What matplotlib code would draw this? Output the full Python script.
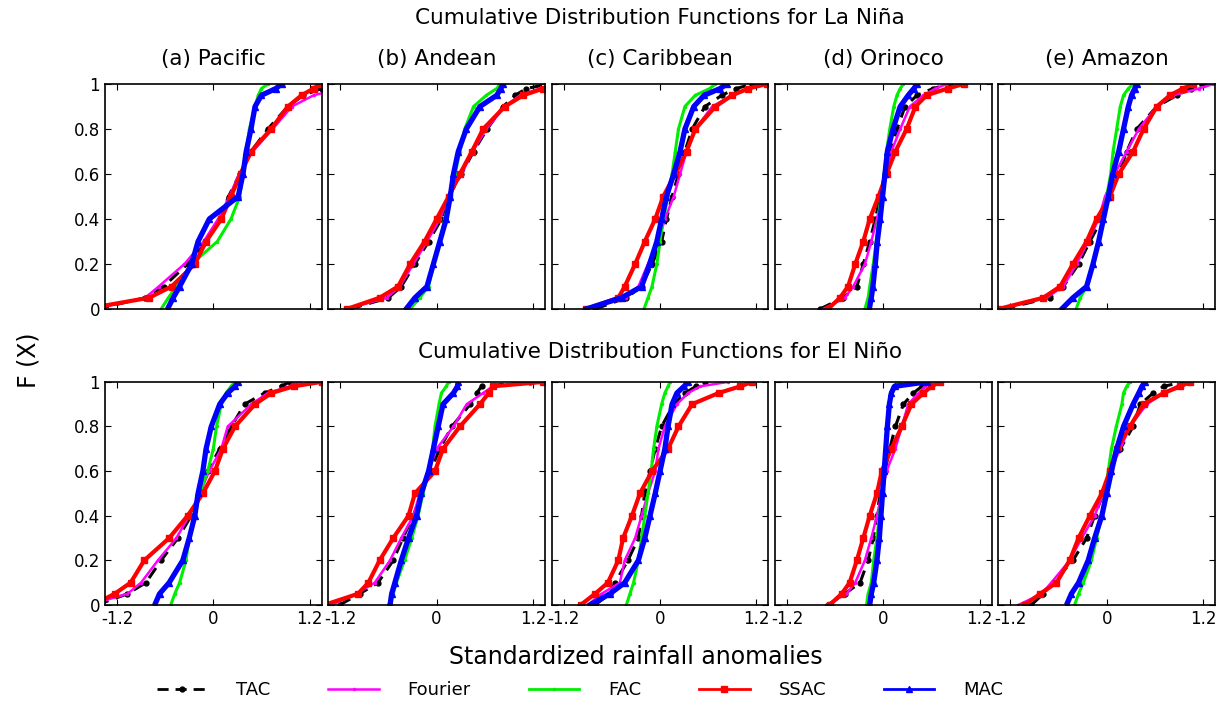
import matplotlib
matplotlib.use("Agg")
import matplotlib.pyplot as plt
from matplotlib.lines import Line2D
import numpy as np

f_levels = [0, 0.05, 0.1, 0.2, 0.3, 0.4, 0.5, 0.6, 0.7, 0.8, 0.9, 0.95, 0.98, 1.0]

regions = ["(a) Pacific", "(b) Andean", "(c) Caribbean", "(d) Orinoco", "(e) Amazon"]

# La Nina, one row per region
tac_nina = [
    [-1.45, -0.85, -0.62, -0.32, -0.10, 0.08, 0.19, 0.33, 0.47, 0.68, 0.93, 1.12, 1.35, 1.55],
    [-1.08, -0.60, -0.44, -0.27, -0.10, 0.06, 0.15, 0.31, 0.46, 0.63, 0.83, 0.98, 1.12, 1.40],
    [-0.81, -0.42, -0.23, -0.10, 0.02, 0.08, 0.15, 0.23, 0.31, 0.40, 0.56, 0.77, 0.95, 1.15],
    [-0.79, -0.50, -0.33, -0.25, -0.17, -0.10, -0.04, 0.02, 0.08, 0.17, 0.27, 0.42, 0.62, 0.83],
    [-1.29, -0.71, -0.54, -0.35, -0.21, -0.06, 0.02, 0.15, 0.25, 0.375, 0.625, 0.875, 1.05, 1.21],
]
fourier_nina = [
    [-1.50, -0.85, -0.68, -0.36, -0.12, 0.06, 0.20, 0.32, 0.49, 0.74, 0.98, 1.25, 1.60, 1.80],
    [-1.12, -0.62, -0.46, -0.29, -0.12, 0.04, 0.15, 0.31, 0.45, 0.62, 0.85, 1.04, 1.29, 1.45],
    [-0.94, -0.42, -0.27, -0.15, -0.02, 0.06, 0.17, 0.25, 0.33, 0.44, 0.65, 0.90, 1.10, 1.27],
    [-0.75, -0.48, -0.375, -0.23, -0.15, -0.08, -0.02, 0.04, 0.10, 0.21, 0.33, 0.50, 0.65, 0.79],
    [-1.33, -0.75, -0.54, -0.375, -0.23, -0.10, -0.02, 0.10, 0.25, 0.40, 0.625, 0.83, 1.15, 1.33],
]
fac_nina = [
    [-0.65, -0.56, -0.46, -0.27, 0.05, 0.22, 0.33, 0.37, 0.41, 0.45, 0.52, 0.56, 0.60, 0.68],
    [-0.33, -0.21, -0.10, -0.04, 0.04, 0.10, 0.17, 0.23, 0.29, 0.35, 0.46, 0.62, 0.75, 0.79],
    [-0.20, -0.15, -0.10, -0.04, 0.0, 0.04, 0.10, 0.15, 0.19, 0.23, 0.31, 0.44, 0.62, 0.69],
    [-0.23, -0.19, -0.17, -0.125, -0.09, -0.06, -0.03, 0.01, 0.04, 0.08, 0.13, 0.17, 0.21, 0.25],
    [-0.38, -0.33, -0.25, -0.17, -0.10, -0.04, 0.0, 0.05, 0.08, 0.125, 0.17, 0.21, 0.27, 0.33],
]
ssac_nina = [
    [-1.60, -0.80, -0.52, -0.23, -0.09, 0.10, 0.22, 0.34, 0.47, 0.72, 0.93, 1.10, 1.25, 1.33],
    [-1.12, -0.71, -0.48, -0.33, -0.15, 0.0, 0.15, 0.29, 0.44, 0.58, 0.85, 1.08, 1.33, 1.50],
    [-0.92, -0.52, -0.44, -0.31, -0.19, -0.06, 0.04, 0.19, 0.33, 0.44, 0.69, 0.90, 1.10, 1.33],
    [-0.69, -0.54, -0.44, -0.35, -0.25, -0.17, -0.06, 0.04, 0.15, 0.29, 0.40, 0.54, 0.80, 1.00],
    [-1.35, -0.79, -0.58, -0.42, -0.25, -0.125, 0.04, 0.15, 0.33, 0.46, 0.625, 0.79, 0.95, 1.08],
]
mac_nina = [
    [-0.57, -0.50, -0.42, -0.27, -0.19, -0.05, 0.31, 0.37, 0.41, 0.47, 0.52, 0.60, 0.78, 0.85],
    [-0.38, -0.27, -0.12, -0.04, 0.04, 0.12, 0.17, 0.21, 0.27, 0.37, 0.54, 0.75, 0.80, 0.83],
    [-0.92, -0.48, -0.23, -0.13, -0.04, 0.02, 0.08, 0.17, 0.25, 0.31, 0.42, 0.55, 0.75, 0.83],
    [-0.175, -0.15, -0.13, -0.10, -0.075, -0.04, -0.01, 0.02, 0.05, 0.12, 0.21, 0.31, 0.38, 0.42],
    [-0.56, -0.42, -0.25, -0.17, -0.10, -0.04, 0.02, 0.075, 0.15, 0.21, 0.27, 0.31, 0.35, 0.375],
]

# El Nino, one row per region
tac_nino = [
    [-1.45, -1.07, -0.84, -0.65, -0.44, -0.275, -0.17, -0.07, 0.08, 0.225, 0.39, 0.64, 0.85, 0.95],
    [-1.21, -0.96, -0.73, -0.54, -0.42, -0.29, -0.19, -0.08, 0.04, 0.19, 0.42, 0.50, 0.56, 1.17],
    [-0.81, -0.625, -0.56, -0.40, -0.27, -0.23, -0.19, -0.125, -0.06, 0.02, 0.17, 0.31, 0.45, 0.56],
    [-0.69, -0.48, -0.29, -0.19, -0.125, -0.08, -0.04, 0.02, 0.08, 0.15, 0.25, 0.375, 0.48, 0.54],
    [-0.94, -0.79, -0.67, -0.42, -0.25, -0.15, -0.04, 0.04, 0.17, 0.33, 0.42, 0.58, 0.71, 0.96],
]
fourier_nino = [
    [-1.55, -1.07, -0.90, -0.69, -0.46, -0.30, -0.17, -0.05, 0.10, 0.18, 0.475, 0.68, 0.95, 1.08],
    [-1.31, -1.00, -0.77, -0.58, -0.44, -0.29, -0.21, -0.10, 0.0, 0.21, 0.375, 0.58, 0.70, 1.21],
    [-0.90, -0.73, -0.50, -0.44, -0.31, -0.23, -0.15, -0.06, -0.02, 0.06, 0.21, 0.35, 0.50, 0.85],
    [-0.71, -0.46, -0.35, -0.23, -0.15, -0.08, -0.02, 0.04, 0.15, 0.23, 0.31, 0.44, 0.52, 0.58],
    [-1.10, -0.81, -0.69, -0.46, -0.31, -0.15, -0.04, 0.04, 0.17, 0.29, 0.50, 0.71, 0.875, 1.02],
]
fac_nino = [
    [-0.53, -0.48, -0.42, -0.34, -0.30, -0.23, -0.17, -0.07, 0.0, 0.04, 0.10, 0.16, 0.22, 0.27],
    [-0.60, -0.54, -0.50, -0.40, -0.31, -0.23, -0.17, -0.10, -0.05, -0.02, 0.03, 0.06, 0.12, 0.15],
    [-0.42, -0.375, -0.33, -0.27, -0.23, -0.19, -0.15, -0.11, -0.08, -0.04, 0.02, 0.06, 0.10, 0.125],
    [-0.21, -0.19, -0.15, -0.12, -0.08, -0.05, -0.02, 0.01, 0.03, 0.05, 0.075, 0.09, 0.12, 0.19],
    [-0.40, -0.35, -0.29, -0.19, -0.125, -0.06, -0.02, 0.02, 0.06, 0.12, 0.19, 0.21, 0.25, 0.29],
]
ssac_nino = [
    [-1.50, -1.23, -1.03, -0.86, -0.55, -0.32, -0.13, 0.02, 0.12, 0.27, 0.52, 0.725, 1.00, 1.35],
    [-1.40, -0.98, -0.85, -0.71, -0.54, -0.35, -0.27, -0.02, 0.08, 0.29, 0.54, 0.65, 0.70, 1.33],
    [-0.99, -0.81, -0.65, -0.52, -0.46, -0.35, -0.25, -0.10, 0.10, 0.23, 0.40, 0.73, 1.00, 1.15],
    [-0.67, -0.52, -0.42, -0.33, -0.25, -0.17, -0.08, -0.02, 0.10, 0.23, 0.35, 0.50, 0.60, 0.71],
    [-1.02, -0.83, -0.625, -0.46, -0.35, -0.21, -0.06, 0.04, 0.125, 0.29, 0.46, 0.71, 0.92, 1.04],
]
mac_nino = [
    [-0.73, -0.67, -0.55, -0.38, -0.30, -0.23, -0.19, -0.13, -0.09, -0.025, 0.08, 0.18, 0.27, 0.31],
    [-0.58, -0.56, -0.52, -0.44, -0.35, -0.25, -0.19, -0.10, -0.04, 0.02, 0.08, 0.21, 0.26, 0.27],
    [-0.875, -0.625, -0.44, -0.27, -0.19, -0.125, -0.06, 0.0, 0.06, 0.10, 0.15, 0.21, 0.30, 0.35],
    [-0.17, -0.15, -0.12, -0.08, -0.05, -0.03, -0.01, 0.01, 0.03, 0.05, 0.075, 0.10, 0.14, 0.54],
    [-0.50, -0.44, -0.35, -0.23, -0.15, -0.06, 0.0, 0.06, 0.125, 0.21, 0.33, 0.40, 0.44, 0.48],
]

method_names = ["TAC", "Fourier", "FAC", "SSAC", "MAC"]
nina_sets = [tac_nina, fourier_nina, fac_nina, ssac_nina, mac_nina]
nino_sets = [tac_nino, fourier_nino, fac_nino, ssac_nino, mac_nino]

# line styles per method
styles = [
    dict(color="black", ls=(0, (4, 2.5)), lw=2.2, marker="o", ms=3.5),
    dict(color="#ff00ff", ls="-", lw=1.8, marker=".", ms=3),
    dict(color="#00ee00", ls="-", lw=2.2, marker=".", ms=3),
    dict(color="red", ls="-", lw=3.0, marker="s", ms=4),
    dict(color="blue", ls="-", lw=3.8, marker="^", ms=4),
]

plt.rcParams["font.family"] = "DejaVu Sans"

fig = plt.figure(figsize=(12.29, 7.06), dpi=100, facecolor="white")

lefts = [0.0854, 0.2671, 0.4489, 0.6306, 0.8123]
width = 0.1763
rows = [(0.5623, 0.3187, nina_sets), (0.1431, 0.3160, nino_sets)]

for r, (bottom, height, sets) in enumerate(rows):
    for c in range(5):
        ax = fig.add_axes([lefts[c], bottom, width, height])
        for m in range(5):
            ax.plot(sets[m][c], f_levels, **styles[m])
        ax.set_xlim(-1.35, 1.35)
        ax.set_ylim(0, 1)
        ax.set_xticks([-1.2, 0, 1.2])
        ax.set_xticklabels(["-1.2", "0", "1.2"])
        ax.set_yticks([0, 0.2, 0.4, 0.6, 0.8, 1.0])
        ax.set_yticklabels(["0", "0.2", "0.4", "0.6", "0.8", "1"])
        ax.tick_params(direction="in", top=True, right=True, length=4,
                       labelsize=12, width=0.8)
        if r == 0:
            ax.tick_params(labelbottom=False)
            ax.set_title(regions[c], fontsize=15.5, pad=14)
        if c > 0:
            ax.tick_params(labelleft=False)
        for s in ax.spines.values():
            s.set_linewidth(1.2)

fig.text(0.537, 0.975, "Cumulative Distribution Functions for La Niña",
         ha="center", va="center", fontsize=15.5)
fig.text(0.537, 0.501, "Cumulative Distribution Functions for El Niño",
         ha="center", va="center", fontsize=15.5)
fig.text(0.023, 0.49, "F (X)", rotation=90, ha="center", va="center", fontsize=17)
fig.text(0.517, 0.069, "Standardized rainfall anomalies", ha="center",
         va="center", fontsize=17)

handles = [Line2D([], [], **styles[m]) for m in range(5)]
for h in handles:
    h.set_linewidth(min(h.get_linewidth(), 2.0))
    h.set_markevery([1])
    h.set_xdata([0, 1, 2])
    h.set_ydata([0, 0, 0])
fig.legend(handles, method_names, loc="center", ncol=5, frameon=False,
           bbox_to_anchor=(0.472, 0.022), fontsize=13, handlelength=2.8,
           handletextpad=1.6, columnspacing=3.2)

fig.savefig("out.png", dpi=100)
